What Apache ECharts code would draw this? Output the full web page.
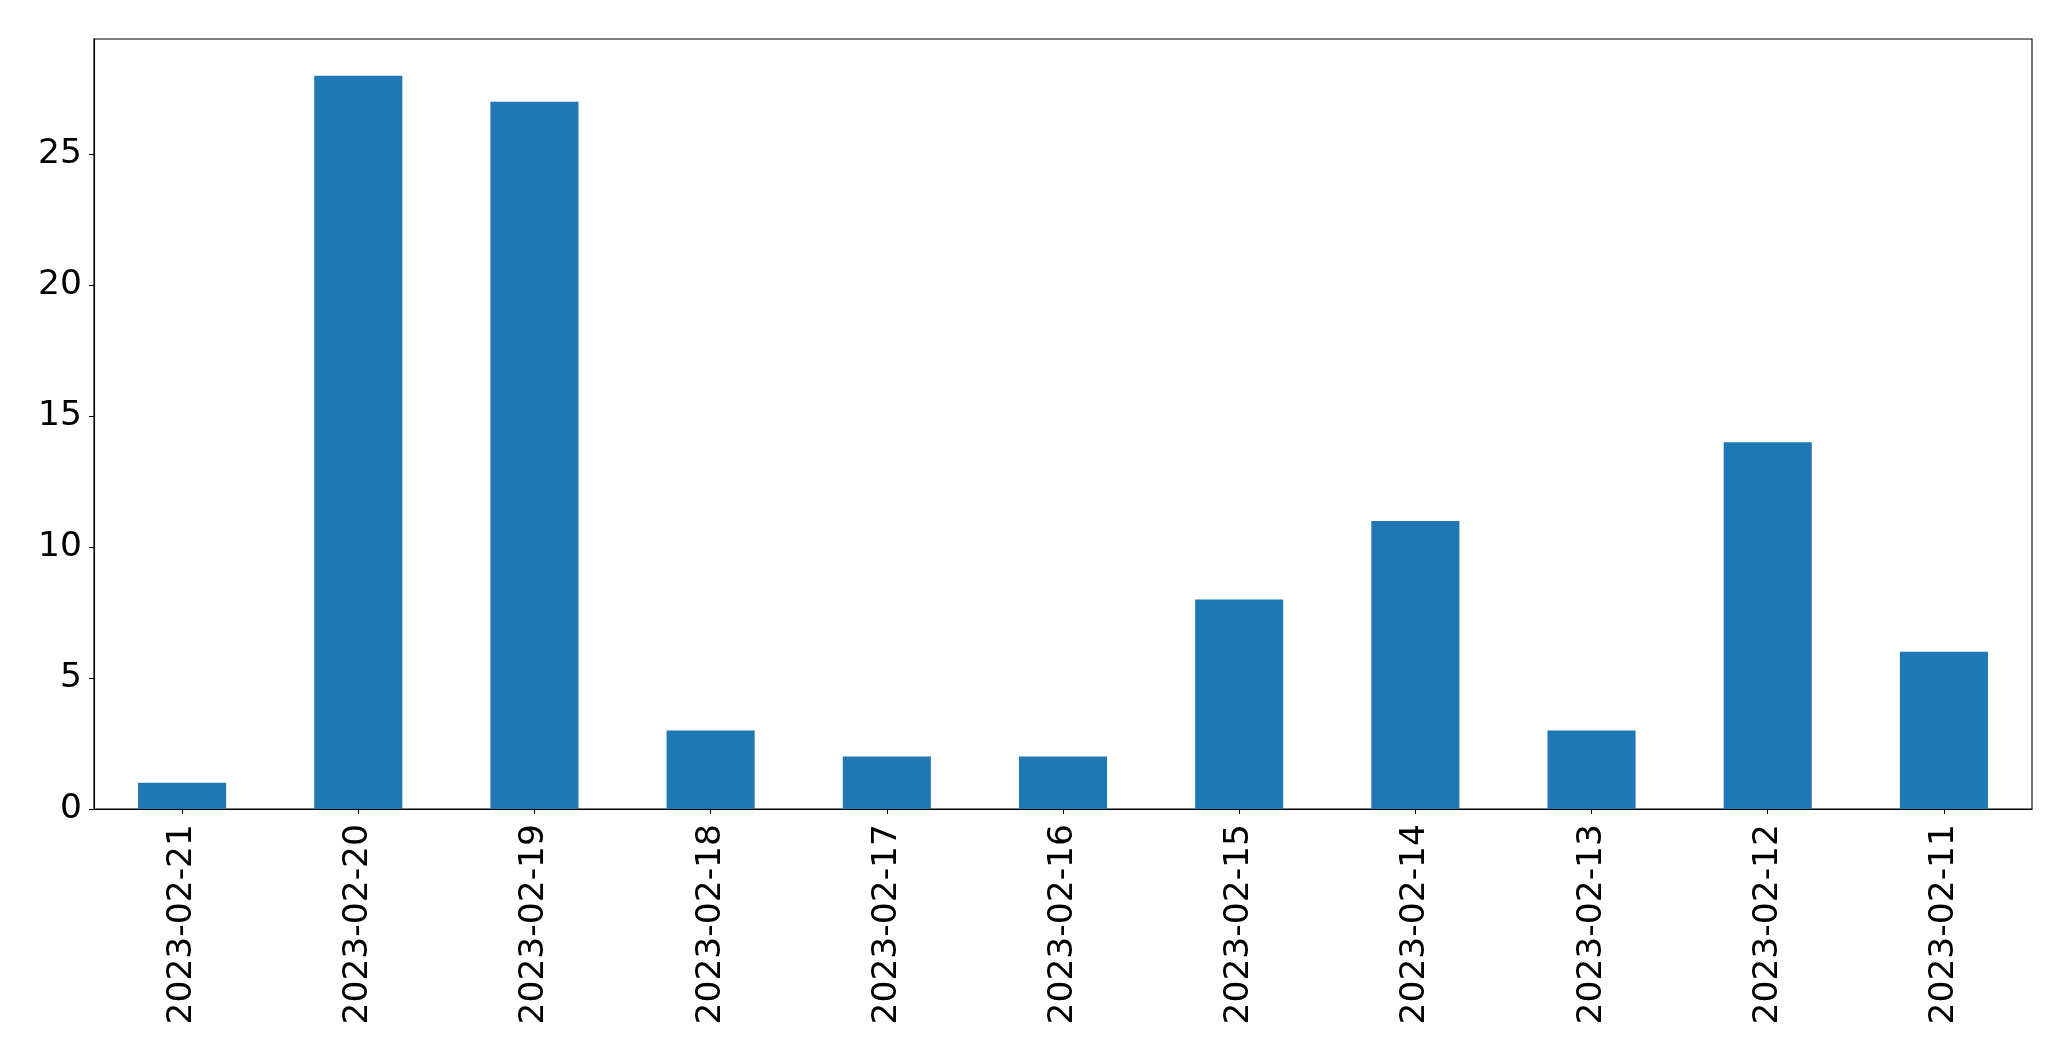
<!DOCTYPE html>
<html>
<head>
<meta charset="utf-8">
<script src="https://cdn.jsdelivr.net/npm/echarts@6/dist/echarts.min.js"></script>
<style>html,body{margin:0;padding:0;background:#fff;}#c{width:2071px;height:1061px;}</style>
</head>
<body>
<div id="c"></div>
<script>
const categories = ["2023-02-21","2023-02-20","2023-02-19","2023-02-18","2023-02-17","2023-02-16","2023-02-15","2023-02-14","2023-02-13","2023-02-12","2023-02-11"];
const values = [1, 28, 27, 3, 2, 2, 8, 11, 3, 14, 6];
const yTicks = [0, 5, 10, 15, 20, 25];

const chart = echarts.init(document.getElementById('c'), null, {renderer: 'canvas'});
const font = 'DejaVu Sans';
chart.setOption({
  animation: false,
  backgroundColor: '#ffffff',
  grid: {left: 94, top: 39, right: 39, bottom: 252, show: true, borderColor: '#000', borderWidth: 1.1, backgroundColor: 'transparent'},
  xAxis: {
    type: 'category',
    data: categories,
    axisLine: {show: true, lineStyle: {color: '#000', width: 1.1}},
    axisTick: {show: true, alignWithLabel: true, length: 5, lineStyle: {color: '#000', width: 1.1}},
    axisLabel: {rotate: 90, margin: 15, fontFamily: font, fontSize: 34.5, color: '#000', interval: 0},
    splitLine: {show: false}
  },
  yAxis: {
    type: 'value',
    min: 0,
    max: 29.4,
    interval: 5,
    axisLine: {show: true, lineStyle: {color: '#000', width: 1.1}},
    axisTick: {show: true, length: 5, customValues: yTicks, lineStyle: {color: '#000', width: 1.1}},
    axisLabel: {margin: 12, fontFamily: font, fontSize: 34.5, color: '#000', customValues: yTicks,
      formatter: function(v){ return String(v); }},
    splitLine: {show: false}
  },
  series: [{
    type: 'bar',
    data: values,
    barWidth: '50%',
    itemStyle: {color: '#1f77b4'}
  }]
});
</script>
</body>
</html>
